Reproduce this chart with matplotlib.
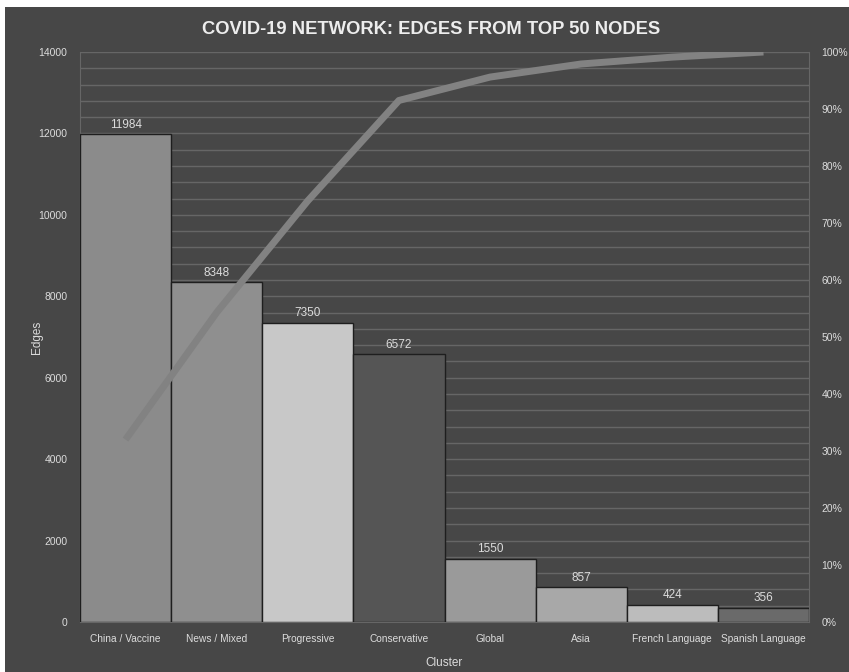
import matplotlib
matplotlib.use("Agg")
import matplotlib.pyplot as plt
from matplotlib.patches import Rectangle
from matplotlib.ticker import FuncFormatter, MultipleLocator

clusters = ["China / Vaccine", "News / Mixed", "Progressive", "Conservative",
            "Global", "Asia", "French Language", "Spanish Language"]
edges = [11984, 8348, 7350, 6572, 1550, 857, 424, 356]
cum_pct = [32.0, 54.3, 73.9, 91.5, 95.6, 97.9, 99.1, 100.0]
bar_colors = ["#8b8b8b", "#8f8f8f", "#c8c8c8", "#555555",
              "#9a9a9a", "#a8a8a8", "#bcbcbc", "#6a6a6a"]

BG = "#474747"
GRID = "#666666"
TXT = "#dcdcdc"
FONT = "Liberation Sans"

fig = plt.figure(figsize=(8.49, 6.72), dpi=100, facecolor="white")
fig.patches.append(Rectangle((5 / 849, 0), 1, 1 - 7 / 672, transform=fig.transFigure,
                             facecolor=BG, edgecolor="none", zorder=-10))

ax = fig.add_axes([80 / 849, 50 / 672, 729 / 849, 570 / 672])
ax.set_facecolor(BG)
x = range(len(clusters))
ax.bar(x, edges, width=1.0, color=bar_colors, edgecolor="#1e1e1e", lw=1.0, zorder=3)
for i, v in enumerate(edges):
    ax.annotate(f"{v}", (i, v), xytext=(0, 2.5), textcoords="offset points",
                ha="center", va="bottom", fontsize=8.5, color=TXT, family=FONT, zorder=5)

ax.set_xlim(-0.5, len(clusters) - 0.5)
ax.set_ylim(0, 14000)
ax.yaxis.set_major_locator(MultipleLocator(2000))
ax.yaxis.set_minor_locator(MultipleLocator(400))
ax.grid(axis="y", which="both", color=GRID, lw=1.0, zorder=0)
ax.set_axisbelow(True)
for s in ax.spines.values():
    s.set_color(GRID)
ax.spines["top"].set_visible(False)
ax.tick_params(axis="both", which="both", length=0, colors=TXT)
ax.tick_params(axis="y", labelsize=7.5, pad=9)
ax.set_xticks(list(x))
ax.set_xticklabels(clusters, fontsize=7.3, family=FONT, color=TXT)
ax.tick_params(axis="x", pad=9)
for lab in ax.get_yticklabels():
    lab.set_family(FONT)
ax.set_xlabel("Cluster", fontsize=8.5, family=FONT, color=TXT, labelpad=9)
ax.set_ylabel("Edges", fontsize=8.5, family=FONT, color=TXT, labelpad=-3)

ax2 = ax.twinx()
ax2.plot(list(x), cum_pct, color="#828282", lw=5, solid_capstyle="butt", zorder=6)
ax2.set_ylim(0, 100)
ax2.yaxis.set_major_locator(MultipleLocator(10))
ax2.yaxis.set_major_formatter(FuncFormatter(lambda v, p: f"{v:.0f}%"))
ax2.tick_params(axis="y", length=0, colors=TXT, labelsize=7.5, pad=9)
for lab in ax2.get_yticklabels():
    lab.set_family(FONT)
for s in ax2.spines.values():
    s.set_visible(False)

fig.text(431 / 849, 1 - 29 / 672, "COVID-19 NETWORK: EDGES FROM TOP 50 NODES",
         ha="center", va="center", fontsize=13.2, fontweight="bold",
         family=FONT, color="#ededed")

fig.savefig("out.png", dpi=100, facecolor="white")
